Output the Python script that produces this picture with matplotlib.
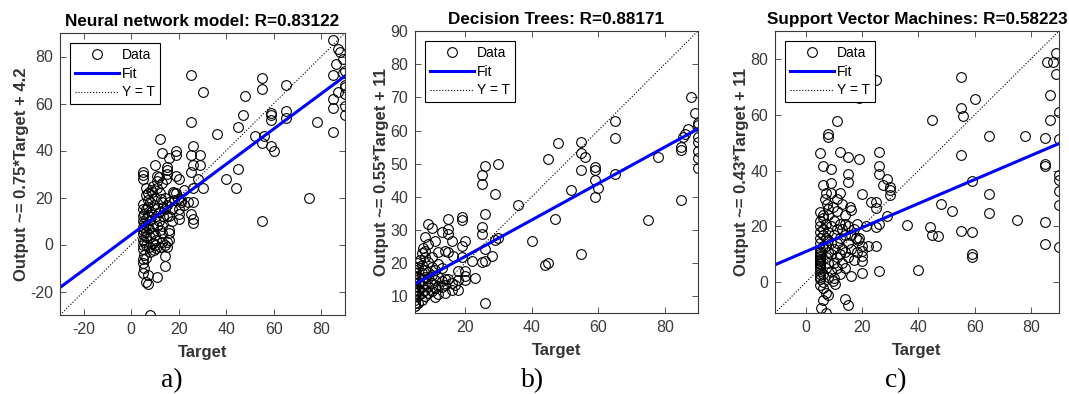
import matplotlib.pyplot as plt
from matplotlib.ticker import MultipleLocator

# (Target, Output) for each model
nn_points = [
    (85, 87), (87, 83), (88, 82), (89, 79), (86, 77), (85, 72), (89, 73), (90, 74), (90, 68), (90, 67),
    (90, 64), (87, 65), (85, 62), (85, 58), (90, 59), (90, 55), (85, 48), (78, 52), (75, 20),
    (65, 68), (55, 71), (55, 66), (65, 57), (65, 54), (59, 56), (59, 55), (59, 53), (59, 42), (60, 40),
    (52, 46), (56, 46), (55, 43), (55, 10), (48, 63), (47, 55), (45, 50), (45, 32), (44, 24), (40, 28),
    (36, 47), (30, 65), (25, 72), (25, 52), (26, 42), (25, 38), (29, 38), (29, 34), (26, 34), (25, 31),
    (28, 28), (30, 24), (26, 24), (26, 18), (25, 13), (26, 11), (26, 9), (19, 40), (19, 38), (15, 33),
    (15, 30), (12, 45), (13, 39), (16, 37), (19, 29), (20, 28), (10, 34), (11, 29), (11, 27), (18, 22),
    (19, 22), (22, 23), (21, 19), (22, 17), (18, 19), (15, 17), (17, 15), (13, 18), (20, 15), (20, 11),
    (20, 13), (15, 12), (16, 5), (13, 8), (13, 5), (15, 1), (15, -1), (14, -5), (14, -9), (10, 4),
    (10, 0), (11, -14), (7, -13), (7, -17), (6, -16), (8, -30),
    (5, 31), (5, 29.5), (5, 28), (15.2, 31.8), (11.8, 28.7), (14.6, 27.8), (8.8, 22.5), (12.5, 19.4),
    (17.4, 22.2), (19.5, 19.4), (20.9, 18), (23.7, 18),
    (4.8, 17.3), (6.2, 15.2), (4.8, 15), (5.5, 13), (7, 12.4), (4.8, 12), (6, 11), (8, 10.3), (4.8, 10),
    (5.5, 9), (6.2, 8.1), (4.8, 7.5), (7.6, 6.8), (5, 6), (6, 5.4), (4.8, 4.5), (6.2, 3.2), (8, 3),
    (4.8, 2), (5.5, 1.1), (4.8, 0), (6.2, -0.3), (7.6, -1), (9, 0.5), (10.4, 2), (9, 5), (9, 8),
    (10.4, 12), (11.8, 14), (11.8, 10), (13.2, 12), (13.2, 16), (8.5, 14), (9.5, 17), (7, 19), (6, 21),
    (8.5, 23), (5, -2), (5.5, -4.5), (5, -6), (6.2, -5.9), (5, -8), (5.5, -10), (5, -12), (8, -3),
    (10.5, -1.5), (9.5, -2.5), (16, 6), (16, 2), (14, 0), (12, -1), (13, 1), (11, 8), (12, 6), (14, 15),
    (16, 12), (17, 10), (7, 16), (8, 18), (10, 20), (12, 22), (14, 20), (16, 18), (10, 15), (6, 24),
    (7, 22), (9, 25), (11, 24), (13, 26),
]

dt_points = [
    (88, 70.2), (89, 65.4), (90, 62.4), (90, 61.7), (87, 60.6), (86, 59), (85.5, 58), (90, 58), (90, 56.4),
    (90, 53.7), (90, 51.7), (90, 48.6), (85, 55), (85, 54), (85, 39), (78, 52), (75, 33), (65, 63),
    (65, 57.7), (65, 47), (55, 56.6), (55, 53.2), (56, 52), (55, 48), (59, 49), (59, 48), (59, 45),
    (60, 42.7), (59, 40), (52, 42), (55, 22.8), (48, 56.3), (45, 51.5), (47, 33.4), (44, 19.6), (45, 20.1),
    (40, 26.8), (36, 37.7), (30, 50), (26, 49.2), (25, 46.7), (25, 43.9), (29, 40.9), (26, 34.9), (25, 31),
    (25, 28.8), (30, 27.6), (29, 27), (26, 24.3), (26, 20.8), (28, 22.3), (25, 20.5), (26, 8), (22, 20.8),
    (19, 34), (19, 33), (20, 26.8), (19, 25.3), (19, 21.8), (20, 17.8), (20, 16.3), (20, 15), (18, 17.8),
    (18, 12), (23, 15.6), (15, 33.4), (15, 30.3), (15, 28.8), (16, 26.8), (13, 29.3), (14, 23.8), (15, 23.3),
    (16.5, 22.3), (11, 26.8), (9, 31.9), (10, 30.7), (9, 25.8), (8, 28), (8, 23.8), (8, 21.8), (10, 18.8),
    (12, 19.8), (14, 15.3), (15, 15.3), (13, 12.8), (16, 11.8), (12, 10.8), (11, 9.8),
    (5, 7), (5, 8), (5, 9), (5, 10), (5, 11), (5, 12), (5, 13), (5, 14), (5, 15), (5, 16), (5, 17), (5, 18),
    (5, 19), (6, 8), (6, 10), (6, 12), (6, 14), (6, 16), (6, 19), (7, 9), (7, 11), (7, 13), (7, 15), (7, 17),
    (7, 19.5), (8, 10), (8, 12), (8, 14), (8, 16), (8, 18), (9, 11), (9, 13), (9, 15.5), (9, 17.5),
    (10, 11.5), (10, 14), (10, 16.5), (11, 12.5), (11, 15), (11, 18), (12, 13), (12, 16), (13, 14.5),
    (13, 18.5), (14, 11), (14, 13.5), (5.5, 20), (6.5, 21), (7, 23), (7.5, 24.5), (9, 20.5), (10, 22),
    (12, 23.5), (17, 13.5), (18, 15), (16, 14),
]

svm_points = [
    (89, 82.2), (85.7, 79), (87.8, 79), (89, 74.6), (86.9, 66.9), (90, 61), (86.9, 58), (90, 51.2),
    (85, 51.7), (85, 42.2), (85, 41.8), (90, 38.3), (90, 36.8), (90, 32.8), (90, 27.6), (85, 21.5),
    (85, 13.8), (90, 12.6), (78, 52.5), (75, 22.2), (65, 52.5), (65, 31.6), (65, 24.8), (60, 65.8),
    (59, 36.1), (59, 18), (59, 10), (59, 9.2), (55, 73.4), (55, 62.5), (56, 59.6), (55, 45.7), (55, 18.3),
    (52, 25.4), (48, 28), (45, 58.2), (44, 19.8), (45, 17.1), (47, 16.5), (40, 4.4), (36, 20.5), (29, 23.6),
    (29.8, 31.3), (28.8, 36.9), (30, 34), (30, 33), (27.5, 34.8), (25, 72.3), (26, 46.6), (26, 41.7),
    (26, 38.7), (25, 28.9), (25, 26.5), (23.3, 28.6), (25, 19.7), (26, 20.9), (25, 13), (26, 4.1), (22, 13),
    (21.5, 20), (20, 31.5), (19, 66), (19, 44.2), (20, 13), (20, 11.2), (20, 9.4), (20, 7.7), (20, 3.5),
    (18.6, 15.3), (17.7, 15.9), (18, 21), (16.2, 26), (15.6, 27), (15, 38.7), (15, 36), (15, 45), (12, 46.6),
    (10.9, 57.8), (8, 53.1), (8, 52.2), (5, 46.3), (6, 41.7), (9, 40.4), (9, 35.6), (7.3, 31.9), (9, 31.9),
    (12, 31.9), (6.7, 29.7), (8, 26.2), (10.9, 25.7), (5, 25), (6.2, 24.2), (13.8, -5.9), (15, -8),
    (6.2, -6.5), (8, -4.7), (5.5, -9.2), (7, -10.9), (9.5, 0.6), (10.3, -0.6), (16, 2.1),
    (5, 12), (5, 11), (5, 10), (5, 9.5), (5, 9), (5, 8.5), (5, 8), (5, 7.5), (5, 7), (5, 6.5), (5, 6),
    (5, 5), (5, 4), (5, 3), (5, 2), (5, 1), (5, -1), (5, 14), (5, 16), (5, 18), (5, 20), (5, 22), (6, 13),
    (6, 17), (6, 19), (6, 23), (6, 3), (6, 0), (6, -2), (7, 5), (7, 9), (7, 13), (7, 16), (7, 21), (7, -4),
    (8, 2), (8, 7), (8, 11), (8, 15), (8, 18), (8, 24), (9, 4), (9, 10), (9, 14), (9, 20), (10, 1.5),
    (10, 7), (10, 12), (10, 17), (10, 22), (11, 5), (11, 9), (11, 14), (11, 19), (12, 3), (12, 10),
    (12, 16), (12, 21), (13, 7), (13, 12), (13, 19), (14, 5), (14, 11), (14, 17), (14, 21), (15, 9),
    (15, 14), (15, 20), (16, 12), (16, 17), (17, 8), (17, 19), (18, 11), (19, 16), (7.5, 28), (9.5, 27),
    (6, 35), (11, 30), (13, 28), (14, 24),
]

titles = ['Neural network model: R=0.83122', 'Decision Trees: R=0.88171',
          'Support Vector Machines: R=0.58223']
ylabels = ['Output ~= 0.75*Target + 4.2', 'Output ~= 0.55*Target + 11',
           'Output ~= 0.43*Target + 11']
fit_slopes = [0.75, 0.55, 0.43]
fit_intercepts = [4.2, 11, 11]
axis_limits = [(-30, 90), (5, 90), (-11, 90)]
x_tick_step = [20, 20, 20]
y_tick_step = [20, 10, 20]
panel_labels = ['a)', 'b)', 'c)']

plt.rcParams['font.family'] = ['Liberation Sans', 'DejaVu Sans']
plt.rcParams['axes.unicode_minus'] = False
axis_col = '#3a3a3a'

fig = plt.figure(figsize=(10.69, 3.94), dpi=100)
boxes = [(60, 33, 285, 282), (415, 31, 283, 282), (775, 31, 284, 282)]
label_x = [172, 533, 896]

for i, points in enumerate([nn_points, dt_points, svm_points]):
    left, top, w, h = boxes[i]
    ax = fig.add_axes([left / 1069, (394 - top - h) / 394, w / 1069, h / 394])
    target = [p[0] for p in points]
    output = [p[1] for p in points]
    lo, hi = axis_limits[i]

    ax.plot(target, output, 'o', markersize=7, markerfacecolor='none',
            markeredgecolor='black', markeredgewidth=0.8, label='Data')
    ax.plot([lo, hi], [fit_slopes[i] * lo + fit_intercepts[i], fit_slopes[i] * hi + fit_intercepts[i]],
            color='#0000ff', linewidth=2.2, label='Fit')
    ax.plot([lo, hi], [lo, hi], ':', color='black', linewidth=0.8, label='Y = T')

    ax.set_xlim(lo, hi)
    ax.set_ylim(lo, hi)
    ax.xaxis.set_major_locator(MultipleLocator(x_tick_step[i]))
    ax.yaxis.set_major_locator(MultipleLocator(y_tick_step[i]))
    ax.tick_params(direction='in', top=True, right=True, length=4, width=0.6,
                   colors=axis_col, labelsize=11.5, pad=5)
    for s in ax.spines.values():
        s.set_color(axis_col)
        s.set_linewidth(0.8)

    ax.set_title(titles[i], fontsize=12.3, fontweight='bold', pad=5)
    ax.set_xlabel('Target', fontsize=12, fontweight='bold', color='#333333', labelpad=6)
    ax.set_ylabel(ylabels[i], fontsize=12, fontweight='bold', color='#333333', labelpad=1)

    leg = ax.legend(loc='upper left', bbox_to_anchor=(0.035, 0.965), fontsize=10, numpoints=1,
                    handlelength=3.2, fancybox=False, framealpha=1, borderpad=0.35,
                    labelspacing=0.35, handletextpad=0.2, borderaxespad=0)
    leg.get_frame().set_edgecolor('black')
    leg.get_frame().set_linewidth(0.8)

    fig.text(label_x[i] / 1069, 1 - 381 / 394, panel_labels[i], ha='center', va='center',
             fontsize=20, family='Liberation Serif')

plt.savefig('out.png', dpi=100)
